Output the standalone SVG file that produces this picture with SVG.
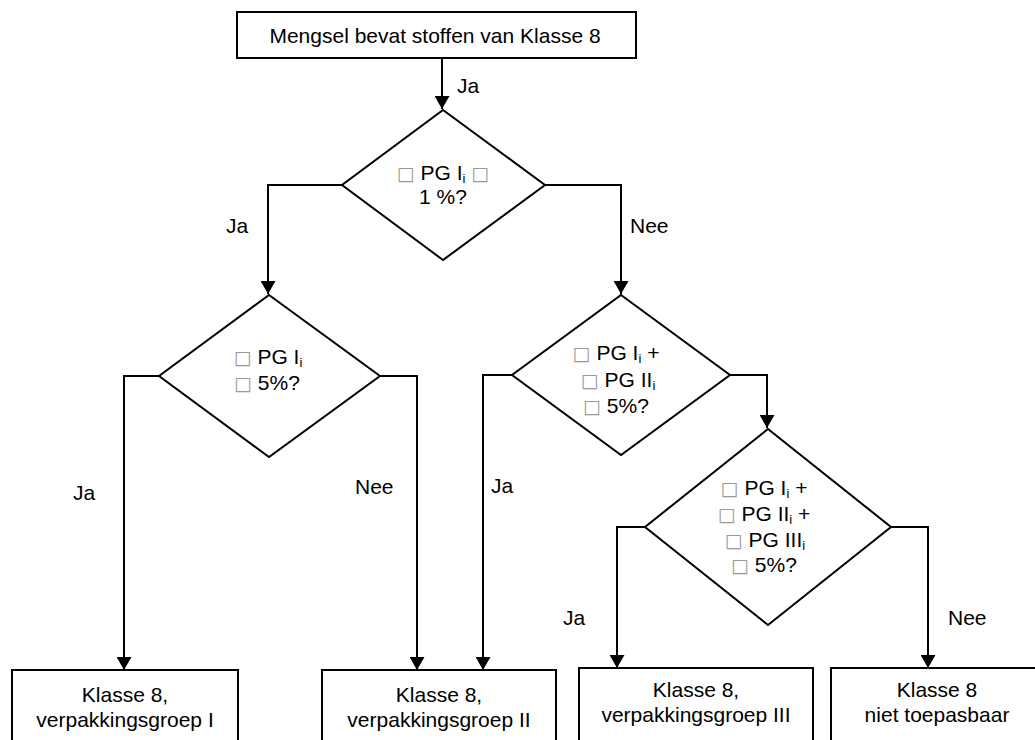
<svg xmlns="http://www.w3.org/2000/svg" width="1035" height="740" viewBox="0 0 1035 740">
<style>
  .shape { fill: #fff; stroke: #000; stroke-width: 2; }
  .conn { fill: none; stroke: #000; stroke-width: 2; }
  text { font-family: "Liberation Sans", Arial, sans-serif; font-size: 21px; fill: #000; }
  .c { text-anchor: middle; }
  .sub { font-size: 13px; }
  .tofu { font-family: "DejaVu Sans", sans-serif; font-size: 19px; fill: #999; }
</style>
<defs>
  <marker id="arr" markerUnits="userSpaceOnUse" markerWidth="14" markerHeight="15" refX="13" refY="7.5" orient="auto">
    <path d="M0,0 L13,7.5 L0,15 z" fill="#000"/>
  </marker>
</defs>
<rect width="1035" height="740" fill="#fff"/>

<g id="connectors">
  <path class="conn" d="M442,58 V109" marker-end="url(#arr)"/>
  <path class="conn" d="M342,185 H268 V294" marker-end="url(#arr)"/>
  <path class="conn" d="M545,185 H621 V294" marker-end="url(#arr)"/>
  <path class="conn" d="M159,376 H124 V670" marker-end="url(#arr)"/>
  <path class="conn" d="M380,376 H417 V670" marker-end="url(#arr)"/>
  <path class="conn" d="M512,375 H483 V670" marker-end="url(#arr)"/>
  <path class="conn" d="M730,375 H767 V428" marker-end="url(#arr)"/>
  <path class="conn" d="M645,527 H617 V668" marker-end="url(#arr)"/>
  <path class="conn" d="M891,527 H928 V668" marker-end="url(#arr)"/>
  <text x="457" y="93">Ja</text>
  <text x="226" y="233">Ja</text>
  <text x="630" y="233">Nee</text>
  <text x="73" y="500">Ja</text>
  <text x="355" y="494">Nee</text>
  <text x="491" y="493">Ja</text>
  <text x="563" y="625">Ja</text>
  <text x="948" y="625">Nee</text>
</g>

<g id="start">
  <rect class="shape" x="237" y="12" width="399" height="46"/>
  <text class="c" x="435" y="43">Mengsel bevat stoffen van Klasse 8</text>
</g>

<g id="d1">
  <polygon class="shape" points="443,110 545,185 443,260 342,185"/>
  <text class="c" x="443" y="180"><tspan class="tofu">□</tspan> PG I<tspan class="sub" dy="3">i</tspan><tspan dy="-3"> </tspan><tspan class="tofu">□</tspan></text>
  <text class="c" x="443" y="204">1 %?</text>
</g>

<g id="d2">
  <polygon class="shape" points="269,295 380,376 269,457 159,376"/>
  <text class="c" x="268" y="364"><tspan class="tofu">□</tspan> PG I<tspan class="sub" dy="3">i</tspan></text>
  <text class="c" x="267" y="390"><tspan class="tofu">□</tspan> 5%?</text>
</g>

<g id="d3">
  <polygon class="shape" points="621,295 730,375 621,455 512,375"/>
  <text class="c" x="616" y="360"><tspan class="tofu">□</tspan> PG I<tspan class="sub" dy="3">i</tspan><tspan dy="-3"> +</tspan></text>
  <text class="c" x="618" y="387"><tspan class="tofu">□</tspan> PG II<tspan class="sub" dy="3">i</tspan></text>
  <text class="c" x="616" y="413"><tspan class="tofu">□</tspan> 5%?</text>
</g>

<g id="d4">
  <polygon class="shape" points="768,429 891,527 768,625 645,527"/>
  <text class="c" x="764" y="495"><tspan class="tofu">□</tspan> PG I<tspan class="sub" dy="3">i</tspan><tspan dy="-3"> +</tspan></text>
  <text class="c" x="764" y="521"><tspan class="tofu">□</tspan> PG II<tspan class="sub" dy="3">i</tspan><tspan dy="-3"> +</tspan></text>
  <text class="c" x="765" y="547"><tspan class="tofu">□</tspan> PG III<tspan class="sub" dy="3">i</tspan></text>
  <text class="c" x="764" y="572"><tspan class="tofu">□</tspan> 5%?</text>
</g>

<g id="pg1">
  <rect class="shape" x="12" y="670" width="226" height="90"/>
  <text class="c" x="125" y="702">Klasse 8,</text>
  <text class="c" x="125" y="727">verpakkingsgroep I</text>
</g>

<g id="pg2">
  <rect class="shape" x="322" y="670" width="234" height="90"/>
  <text class="c" x="439" y="702">Klasse 8,</text>
  <text class="c" x="439" y="727">verpakkingsgroep II</text>
</g>

<g id="pg3">
  <rect class="shape" x="579" y="668" width="234" height="90"/>
  <text class="c" x="696" y="697">Klasse 8,</text>
  <text class="c" x="696" y="722">verpakkingsgroep III</text>
</g>

<g id="na">
  <rect class="shape" x="831" y="668" width="230" height="90"/>
  <text class="c" x="937" y="697">Klasse 8</text>
  <text class="c" x="937" y="722">niet toepasbaar</text>
</g>
</svg>
